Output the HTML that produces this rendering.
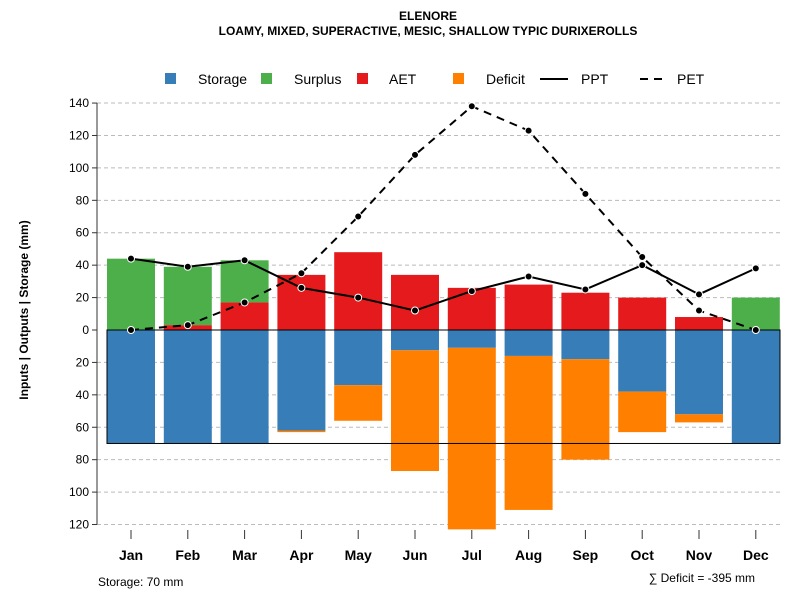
<!DOCTYPE html>
<html><head><meta charset="utf-8"><style>
body{margin:0;background:#fff;}
svg{font-family:"Liberation Sans",Arial,sans-serif;}
</style></head><body>
<svg id="c" width="800" height="600" xmlns="http://www.w3.org/2000/svg">
<text x="428" y="20" text-anchor="middle" font-size="12" font-weight="bold">ELENORE</text>
<text x="428" y="35" text-anchor="middle" font-size="12" font-weight="bold">LOAMY, MIXED, SUPERACTIVE, MESIC, SHALLOW TYPIC DURIXEROLLS</text>
<g font-size="14">
<rect x="165" y="73" width="11" height="11" fill="#377eb8"/>
<text x="198" y="84">Storage</text>
<rect x="261" y="73" width="11" height="11" fill="#4daf4a"/>
<text x="294" y="84">Surplus</text>
<rect x="357" y="73" width="11" height="11" fill="#e41a1c"/>
<text x="389" y="84">AET</text>
<rect x="453" y="73" width="11" height="11" fill="#ff7f00"/>
<text x="486" y="84">Deficit</text>
<line x1="540" y1="79" x2="568" y2="79" stroke="#000" stroke-width="2"/>
<text x="581" y="84">PPT</text>
<line x1="640" y1="79" x2="668" y2="79" stroke="#000" stroke-width="2" stroke-dasharray="8,6"/>
<text x="677" y="84">PET</text>
</g>
<text transform="translate(28,310) rotate(-90)" text-anchor="middle" font-size="12" font-weight="bold">Inputs | Outputs | Storage    (mm)</text>
<g id="grid"></g><g id="bars"></g><g id="lines"></g><g id="axes"></g>
<text x="98" y="586" font-size="12">Storage: 70 mm</text>
<text x="755" y="582" text-anchor="end" font-size="12">∑ Deficit = -395 mm</text>
</svg>
<script>
const months=["Jan","Feb","Mar","Apr","May","Jun","Jul","Aug","Sep","Oct","Nov","Dec"];
const ppt=[44,39,43,26,20,12,24,33,25,40,22,38];
const pet=[0,3,17,35,70,108,138,123,84,45,12,0];
const aet=[0,3,17,34,48,34,26,28,23,20,8,0];
const surplus=[44,36,26,0,0,0,0,0,0,0,0,20];
const storage=[70,70,70,62,34,12.5,11,16,18,38,52,70];
const deficit=[0,0,0,1,22,74.5,112,95,62,25,5,0];
const yTicks=[140,120,100,80,60,40,20,0,-20,-40,-60,-80,-100,-120];
const awc=70;
const NS="http://www.w3.org/2000/svg";
const y=v=>330-v*1.621;
const x=i=>131+i*56.8;
const bw=48;
function mk(p,t,a){const e=document.createElementNS(NS,t);for(const k in a)e.setAttribute(k,a[k]);document.getElementById(p).appendChild(e);return e;}
yTicks.forEach(t=>{
 if(t!==0){const g=mk('grid','line',{x1:97,x2:780,y1:y(t),y2:y(t),stroke:'#bbb','stroke-dasharray':'4,3'});
 
 }
 const tk=mk('axes','line',{x1:92,x2:97,y1:y(t),y2:y(t),stroke:'#333'});
 
 
 const l=mk('axes','text',{x:89,y:y(t)+4,'text-anchor':'end','font-size':12});
 l.textContent=Math.abs(t);
 
 
});
const ax=mk('axes','line',{x1:97,x2:97,y1:y(140),y2:y(-120),stroke:'#333'});


months.forEach((m,i)=>{
 const cx=x(i);
 function bar(v0,v1,c,n){const r=mk('bars','rect',{x:cx-bw/2,y:Math.min(y(v0),y(v1)),width:bw,height:Math.abs(y(v0)-y(v1)),fill:c});
  
  }
 if(aet[i]>0)bar(0,aet[i],'#e41a1c','bar-aet-'+m.toLowerCase());
 if(surplus[i]>0)bar(aet[i],aet[i]+surplus[i],'#4daf4a','bar-surplus-'+m.toLowerCase());
 bar(0,-storage[i],'#377eb8','bar-storage-'+m.toLowerCase());
 if(deficit[i]>0)bar(-storage[i],-storage[i]-deficit[i],'#ff7f00','bar-deficit-'+m.toLowerCase());
 const tk=mk('axes','line',{x1:cx,x2:cx,y1:530,y2:539,stroke:'#333'});
 
 
 const l=mk('axes','text',{x:cx,y:560,'text-anchor':'middle','font-size':14,'font-weight':'bold'});
 l.textContent=m;
 
 
});
const box=mk('bars','rect',{x:107,y:y(0),width:673,height:y(-awc)-y(0),fill:'none',stroke:'#000','stroke-width':1});


function series(arr,dash,n){
 const p=mk('lines','polyline',{points:arr.map((v,i)=>x(i)+','+y(v)).join(' '),fill:'none',stroke:'#000','stroke-width':2,'stroke-dasharray':dash});
 
 
 arr.forEach((v,i)=>{const c=mk('lines','circle',{cx:x(i),cy:y(v),r:3.5,fill:'#000',stroke:'#fff','stroke-width':1});
  
  });
}
series(pet,'8,6','pet');
series(ppt,'none','ppt');
</script>
</body></html>
